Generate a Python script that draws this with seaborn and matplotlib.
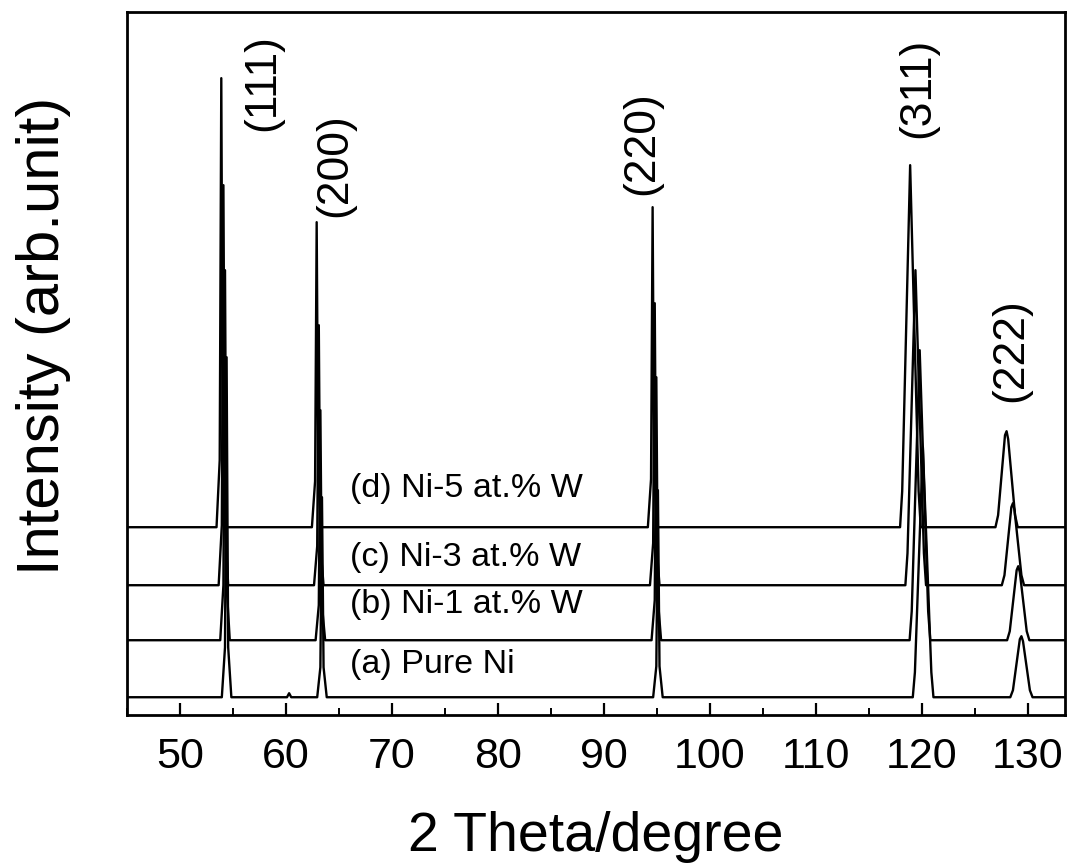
import numpy as np
import pandas as pd
import matplotlib
matplotlib.use('Agg')
import matplotlib.pyplot as plt
import seaborn as sns
from matplotlib import font_manager
from matplotlib.ticker import MultipleLocator

sns.set_style('ticks')
plt.rcParams['font.family'] = ['Liberation Sans', 'DejaVu Sans']
plt.rcParams['text.color'] = 'black'
plt.rcParams['axes.edgecolor'] = 'black'
plt.rcParams['xtick.color'] = 'black'
plt.rcParams['axes.labelcolor'] = 'black'

# XRD patterns: 2theta (deg) and intensity above each trace's baseline
theta_a = [45.0, 53.95, 54.25, 54.4, 54.55, 54.85, 60.1, 60.3, 60.5,
           62.95, 63.25, 63.4, 63.55, 63.85, 94.65, 94.95, 95.1, 95.25, 95.55,
           119.15, 119.35, 120.1, 120.9, 121.1,
           128.35, 128.6, 129.25, 129.4, 129.55, 130.2, 130.45, 134.0]
inten_a = [0, 0, 50, 340, 50, 0, 0, 4, 0,
           0, 30, 200, 30, 0, 0, 31, 207, 31, 0,
           0, 25, 250, 25, 0,
           0, 7, 58, 61, 56, 7, 0, 0]

theta_b = [45.0, 53.8, 54.1, 54.25, 54.4, 54.7,
           62.8, 63.1, 63.25, 63.4, 63.7, 94.5, 94.8, 94.95, 95.1, 95.4,
           118.85, 119.05, 119.8, 120.6, 120.8,
           128.05, 128.3, 128.95, 129.1, 129.25, 129.9, 130.15, 134.0]
inten_b = [0, 0, 55, 370, 55, 0,
           0, 35, 230, 35, 0, 0, 40, 263, 40, 0,
           0, 29, 290, 29, 0,
           0, 9, 70, 74, 68, 9, 0, 0]

theta_c = [45.0, 53.65, 53.95, 54.1, 54.25, 54.55,
           62.65, 62.95, 63.1, 63.25, 63.55, 94.35, 94.65, 94.8, 94.95, 95.25,
           118.45, 118.65, 119.4, 120.2, 120.4,
           127.55, 127.8, 128.45, 128.6, 128.75, 129.4, 129.65, 134.0]
inten_c = [0, 0, 60, 400, 60, 0,
           0, 39, 260, 39, 0, 0, 42, 282, 42, 0,
           0, 32, 315, 32, 0,
           0, 10, 78, 82, 75, 10, 0, 0]

theta_d = [45.0, 53.45, 53.75, 53.9, 54.05, 54.35,
           62.45, 62.75, 62.9, 63.05, 63.35, 94.15, 94.45, 94.6, 94.75, 95.05,
           117.95, 118.15, 118.9, 119.7, 119.9,
           126.95, 127.2, 127.85, 128.0, 128.15, 128.8, 129.05, 134.0]
inten_d = [0, 0, 67, 449, 67, 0,
           0, 46, 305, 46, 0, 0, 48, 320, 48, 0,
           0, 36, 362, 36, 0,
           0, 12, 92, 96, 88, 12, 0, 0]

samples = ['(a) Pure Ni', '(b) Ni-1 at.% W', '(c) Ni-3 at.% W', '(d) Ni-5 at.% W']
offsets = [18, 75, 130, 188]

planes = ['(111)', '(200)', '(220)', '(311)', '(222)']
plane_x = [57.8, 64.6, 93.6, 119.6, 128.4]
plane_y = [633, 550, 572, 627, 365]

traces = [(theta_a, inten_a), (theta_b, inten_b), (theta_c, inten_c), (theta_d, inten_d)]

# the tick numbers in the original are a condensed face
installed = {f.name for f in font_manager.fontManager.ttflist}
if 'Liberation Sans Narrow' in installed:
    tick_family, tick_size = ['Liberation Sans Narrow', 'Liberation Sans'], 37
else:
    tick_family, tick_size = ['Liberation Sans', 'DejaVu Sans'], 31

fig = plt.figure(figsize=(10.67, 8.68), dpi=100)
ax = fig.add_axes([0.119, 0.176, 0.879, 0.810])

for (tt, ii), off in zip(traces, offsets):
    df = pd.DataFrame({'theta': tt, 'I': np.array(ii) + off})
    sns.lineplot(data=df, x='theta', y='I', estimator=None, sort=False,
                 color='black', lw=1.7, ax=ax)

# sample names sit just above each baseline
label_y = [51, 111, 158, 227]
for name, ly in zip(samples, label_y):
    ax.text(66.0, ly, name, fontsize=24.5, va='center', ha='left')

for p, px, py in zip(planes, plane_x, plane_y):
    ax.text(px, py, p, fontsize=32, rotation=90, ha='center', va='center')

ax.set_xlim(45, 133.5)
ax.set_ylim(0, 703)
ax.xaxis.set_major_locator(MultipleLocator(10))
ax.xaxis.set_minor_locator(MultipleLocator(5))
ax.set_yticks([])
ax.tick_params(axis='x', which='major', direction='in', length=9, width=1.6,
               labelsize=tick_size, pad=16, top=False, labelfontfamily=tick_family)
ax.tick_params(axis='x', which='minor', direction='in', length=5, width=1.4, top=False)
for s in ax.spines.values():
    s.set_linewidth(2)

ax.set_xlabel('2 Theta/degree', fontsize=40, labelpad=24)
ax.set_ylabel('Intensity (arb.unit)', fontsize=43)
ax.yaxis.set_label_coords(-0.06, 0.54)

fig.savefig('out.png', dpi=100)
